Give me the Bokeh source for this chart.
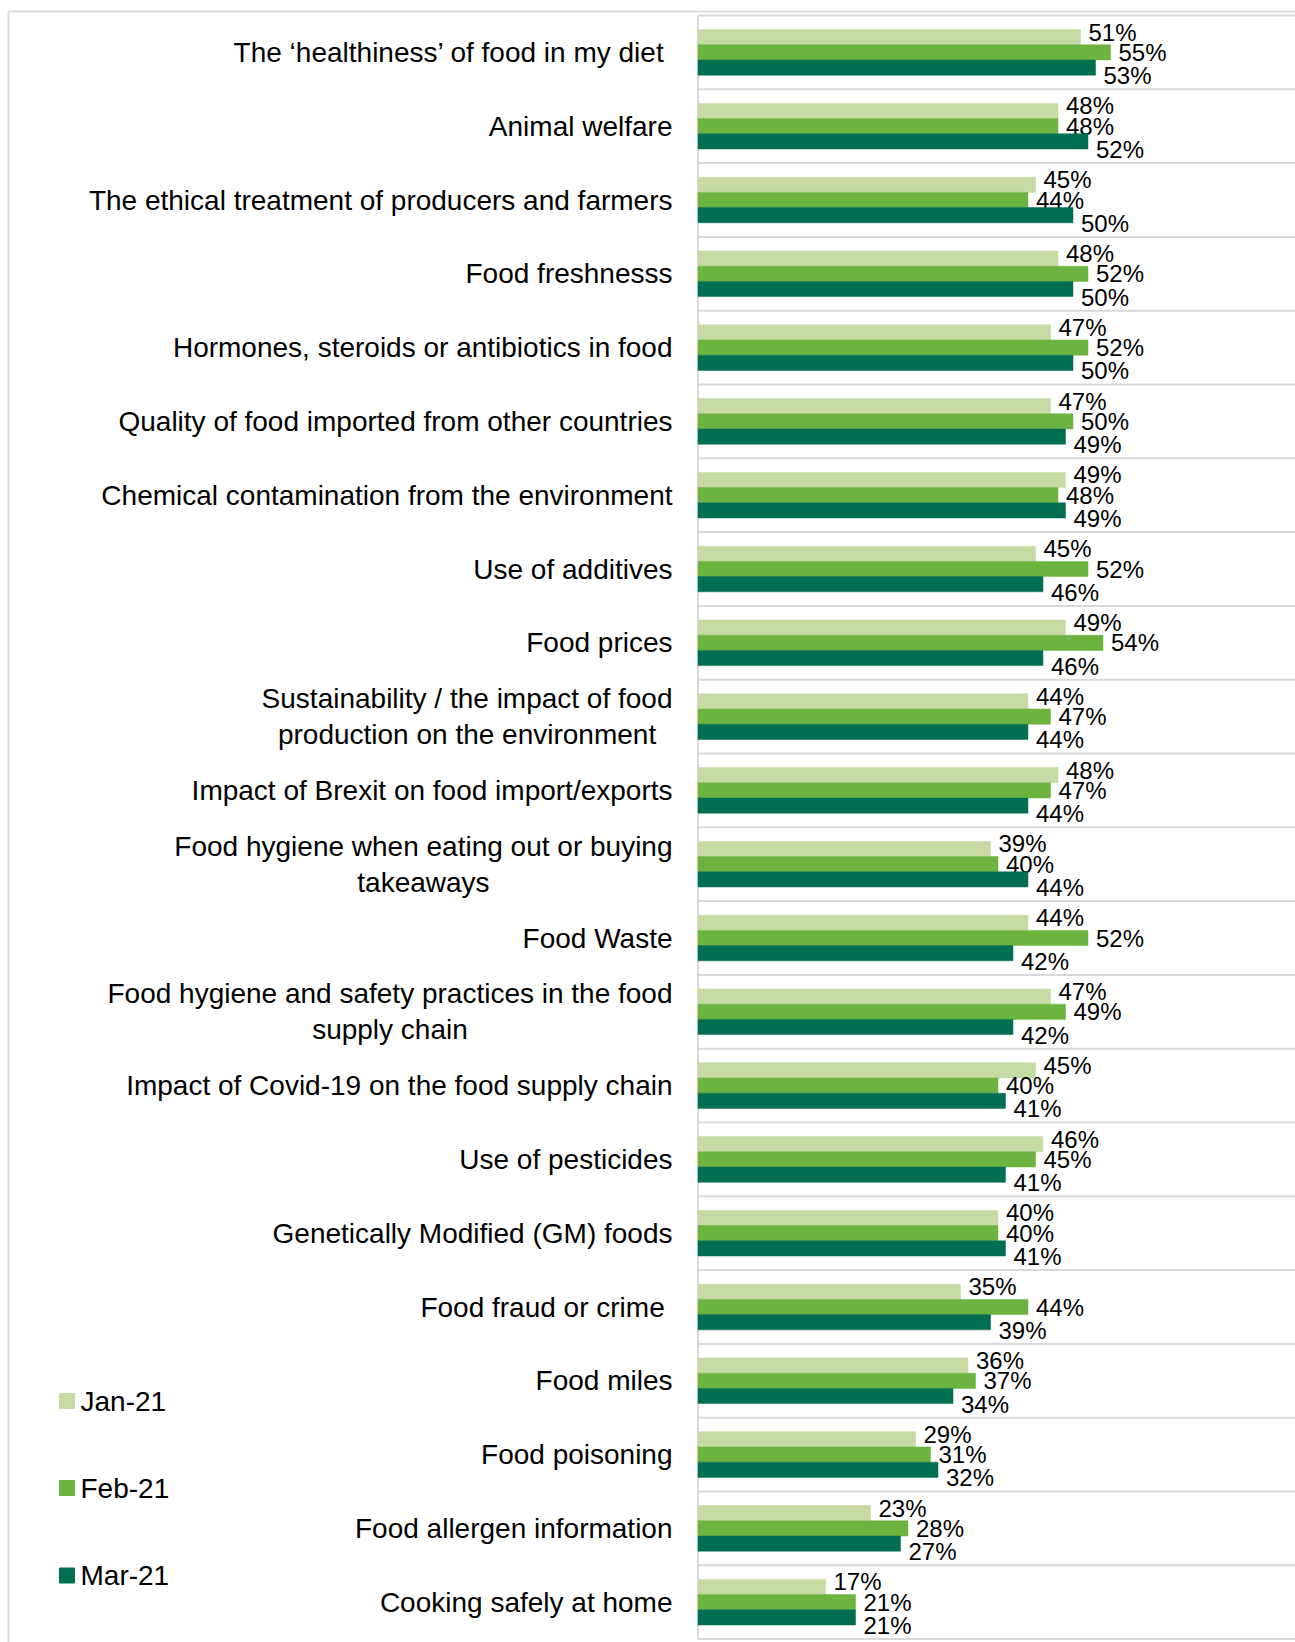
from bokeh.plotting import figure
from bokeh.models import Range1d, ColumnDataSource
from bokeh.core.properties import value
from bokeh.embed import file_html
from bokeh.resources import INLINE

# ---------------- data ----------------
categories = [
    "The \u2018healthiness\u2019 of food in my diet ",
    "Animal welfare",
    "The ethical treatment of producers and farmers",
    "Food freshnesss",
    "Hormones, steroids or antibiotics in food",
    "Quality of food imported from other countries",
    "Chemical contamination from the environment",
    "Use of additives",
    "Food prices",
    "Sustainability / the impact of food\nproduction on the environment",
    "Impact of Brexit on food import/exports",
    "Food hygiene when eating out or buying\ntakeaways",
    "Food Waste",
    "Food hygiene and safety practices in the food\nsupply chain",
    "Impact of Covid-19 on the food supply chain",
    "Use of pesticides",
    "Genetically Modified (GM) foods",
    "Food fraud or crime ",
    "Food miles",
    "Food poisoning",
    "Food allergen information",
    "Cooking safely at home",
]
jan_21 = [51, 48, 45, 48, 47, 47, 49, 45, 49, 44, 48, 39, 44, 47, 45, 46, 40, 35, 36, 29, 23, 17]
feb_21 = [55, 48, 44, 52, 52, 50, 48, 52, 54, 47, 47, 40, 52, 49, 40, 45, 40, 44, 37, 31, 28, 21]
mar_21 = [53, 52, 50, 50, 50, 49, 49, 46, 46, 44, 44, 44, 42, 42, 41, 41, 41, 39, 34, 32, 27, 21]
series_names = ["Jan-21", "Feb-21", "Mar-21"]
series_values = [jan_21, feb_21, mar_21]
colors = ["#c5dba3", "#6db33f", "#006f51"]

# ---------------- layout constants ----------------
W, H = 1295, 1642
PX_PER_PCT = 7.5
AXIS_PX = 697.5
TOP_PX = 15.0
CAT_PX = 73.8
BAR_H = 0.206
FONT = value("Liberation Sans")
GRID_COLOR = "#d9d9d9"

n = len(categories)
x_start = -AXIS_PX / PX_PER_PCT
x_end = (W - AXIS_PX) / PX_PER_PCT


def px_to_x(px):
    return (px - AXIS_PX) / PX_PER_PCT


def px_to_y(py):
    return (py - TOP_PX) / CAT_PX


p = figure(
    width=W, height=H,
    x_range=Range1d(x_start, x_end),
    y_range=Range1d(start=px_to_y(H), end=px_to_y(0)),
    x_axis_location=None, y_axis_location=None,
    output_backend="svg", toolbar_location=None,
    min_border=0, outline_line_color=None,
    background_fill_color="white", border_fill_color="white",
)
p.xgrid.visible = False
p.ygrid.visible = False

# outer frame (left and top edges)
frame_x = px_to_x(8)
frame_y = px_to_y(11)
p.segment(x0=[frame_x, frame_x], y0=[frame_y, frame_y], x1=[frame_x, x_end], y1=[px_to_y(H), frame_y],
          line_color=GRID_COLOR, line_width=2)

# category separators
seps = list(range(n + 1))
p.segment(x0=[0] * len(seps), x1=[x_end] * len(seps), y0=seps, y1=seps,
          line_color=GRID_COLOR, line_width=2)
# vertical axis line
p.segment(x0=[0], x1=[0], y0=[0], y1=[n], line_color=GRID_COLOR, line_width=2)

# bars and value labels
centers = [i + 0.5 for i in range(n)]
bar_shift = [-BAR_H, 0.0, BAR_H]
label_dy_px = [-5, 0, 8]
for k, (name, vals, col) in enumerate(zip(series_names, series_values, colors)):
    ys = [c + bar_shift[k] for c in centers]
    src = ColumnDataSource(dict(y=ys, right=vals, left=[0] * n,
                                label_y=[y + label_dy_px[k] / CAT_PX for y in ys],
                                label=[f"{v}%" for v in vals]))
    p.hbar(y="y", left="left", right="right", height=BAR_H, source=src,
           fill_color=col, line_color=col, line_width=0.5)
    p.text(x="right", y="label_y", text="label", source=src, x_offset=8,
           text_align="left", text_baseline="middle", text_font=FONT,
           text_font_size="24px", text_color="#000000")

# category labels (right-aligned block, lines centred)
cat_src = ColumnDataSource(dict(x=[px_to_x(672)] * n, y=centers, text=categories))
p.text(x="x", y="y", text="text", source=cat_src, anchor="center_right",
       text_align="center", text_baseline="middle", text_font=FONT,
       text_font_size="28px", text_color="#000000", text_line_height=1.16)

# legend
leg_y = [px_to_y(v) for v in (1400.5, 1487.5, 1575.0)]
leg_src = ColumnDataSource(dict(x=[px_to_x(66.5)] * 3, tx=[px_to_x(80)] * 3, y=leg_y,
                                name=series_names, color=colors))
p.scatter(x="x", y="y", source=leg_src, marker="square", size=15,
          fill_color="color", line_color="color")
p.text(x="tx", y="y", text="name", source=leg_src, text_align="left",
       text_baseline="middle", text_font=FONT, text_font_size="28px", text_color="#000000")

open("out.html", "w").write(file_html(p, INLINE))
